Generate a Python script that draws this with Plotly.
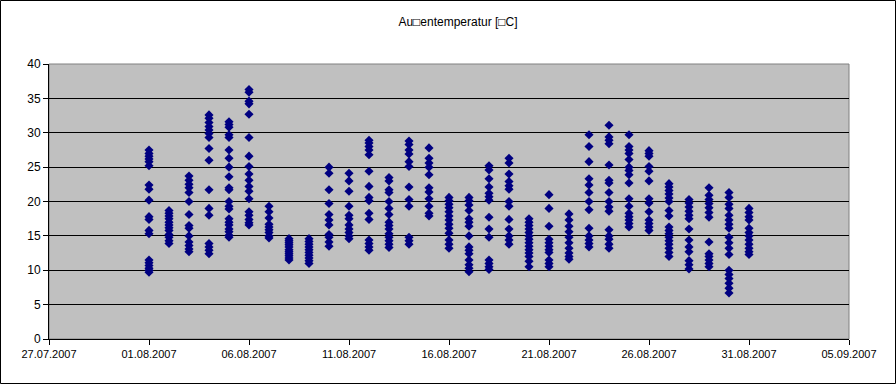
import plotly.graph_objects as go
import datetime as dt

title_text = "Au\u25a1entemperatur [\u25a1C]"

# Temperature readings per day (August 2007)
d01 = [27.5, 27.0, 26.6, 26.2, 25.8, 25.2, 22.4, 21.8, 20.2, 17.8, 17.4, 15.8, 15.3, 11.5, 11.1, 10.7, 10.3, 10.0, 9.7]
d02 = [18.7, 18.3, 17.9, 17.5, 17.0, 16.6, 16.2, 15.8, 15.2, 14.8, 14.3, 13.9]
d03 = [23.7, 23.1, 22.5, 22.0, 21.3, 20.0, 18.1, 16.5, 16.1, 15.0, 14.1, 13.6, 13.1, 12.7]
d04 = [32.6, 32.1, 31.5, 30.9, 30.4, 29.9, 29.3, 27.7, 26.0, 21.7, 19.0, 18.0, 13.9, 13.4, 12.9, 12.4]
d05 = [31.6, 31.2, 30.8, 29.7, 29.3, 27.5, 26.3, 25.0, 23.6, 22.0, 21.7, 20.0, 19.3, 18.9, 17.5, 17.0, 16.6, 16.0, 15.6, 15.1, 14.8]
d06 = [36.3, 35.9, 34.6, 34.2, 32.7, 29.3, 26.6, 25.1, 24.0, 23.1, 22.2, 21.5, 20.4, 18.5, 18.0, 17.4, 16.9, 16.6]
d07 = [19.3, 18.5, 17.6, 16.7, 16.3, 15.9, 15.5, 15.0, 14.7]
d08 = [14.6, 14.3, 14.0, 13.7, 13.4, 13.0, 12.7, 12.4, 12.1, 11.8, 11.5]
d09 = [14.6, 14.2, 13.8, 13.4, 13.0, 12.6, 12.2, 11.8, 11.4, 11.0]
d10 = [25.0, 24.1, 21.7, 19.7, 18.1, 17.3, 16.6, 15.2, 14.8, 14.1, 13.5]
d11 = [24.1, 23.0, 21.5, 19.3, 18.0, 17.5, 16.6, 16.0, 15.5, 15.0, 14.6]
d12 = [28.9, 28.5, 28.0, 27.5, 26.8, 24.4, 22.2, 20.6, 20.1, 18.3, 17.4, 14.4, 13.9, 13.4, 12.9]
d13 = [23.5, 23.0, 21.7, 21.3, 20.0, 19.0, 18.1, 17.0, 16.5, 16.0, 15.3, 14.8, 14.3, 13.8, 13.3]
d14 = [28.8, 28.3, 27.5, 26.9, 25.8, 25.1, 22.1, 20.3, 19.3, 14.8, 14.3, 13.8]
d15 = [27.8, 26.3, 25.6, 25.0, 23.9, 22.0, 21.4, 20.4, 19.3, 18.3, 17.9]
d16 = [20.6, 20.1, 19.6, 19.1, 18.5, 17.9, 17.3, 16.7, 16.1, 15.4, 14.4, 13.8, 13.2]
d17 = [20.6, 20.1, 19.5, 18.7, 17.5, 17.0, 16.4, 15.0, 13.4, 12.9, 12.4, 11.5, 10.8, 10.3, 9.8]
d18 = [25.2, 24.6, 23.3, 22.1, 21.2, 20.7, 20.2, 17.7, 16.0, 14.8, 11.5, 11.0, 10.5, 10.1]
d19 = [26.3, 25.6, 24.0, 22.9, 22.3, 21.8, 20.0, 19.3, 17.4, 16.0, 15.0, 14.4, 13.8]
d20 = [17.5, 17.0, 16.5, 16.0, 15.5, 15.0, 14.5, 14.0, 13.5, 13.0, 12.5, 12.0, 11.3, 10.5]
d21 = [21.0, 19.0, 16.4, 14.5, 14.0, 13.5, 13.0, 12.6, 11.5, 11.0, 10.5]
d22 = [18.2, 17.3, 16.4, 15.6, 14.8, 14.0, 13.2, 12.5, 12.0, 11.6]
d23 = [29.7, 28.0, 25.8, 23.3, 22.4, 21.3, 20.0, 18.8, 16.1, 15.0, 14.4, 13.9, 13.4]
d24 = [31.1, 29.4, 28.9, 28.4, 25.3, 23.1, 22.7, 21.3, 20.0, 19.2, 18.6, 15.9, 15.0, 14.5, 13.8, 13.2]
d25 = [29.7, 28.0, 27.5, 27.0, 26.1, 25.0, 24.5, 23.9, 22.7, 20.4, 19.3, 18.3, 17.8, 17.3, 16.8, 16.3]
d26 = [27.4, 27.0, 26.6, 25.1, 24.4, 23.0, 20.4, 19.8, 18.5, 17.3, 16.8, 16.3, 15.8]
d27 = [22.6, 22.1, 21.6, 21.1, 20.5, 20.0, 18.7, 17.9, 16.3, 15.8, 15.3, 14.8, 14.3, 13.8, 13.2, 12.6, 12.0]
d28 = [20.3, 19.8, 19.2, 18.6, 18.0, 17.5, 16.0, 14.4, 13.4, 12.7, 11.4, 10.8, 10.2]
d29 = [22.0, 20.9, 20.3, 19.7, 19.1, 18.4, 17.7, 14.1, 12.4, 12.0, 11.5, 11.0, 10.5]
d30 = [21.3, 20.6, 19.6, 19.0, 18.0, 17.3, 16.7, 16.1, 14.8, 14.0, 13.2, 12.3, 10.0, 9.4, 8.8, 8.1, 7.4, 6.7]
d31 = [19.0, 18.4, 17.8, 17.3, 16.1, 15.5, 15.0, 14.4, 13.8, 13.2, 12.7, 12.3]

days = [d01, d02, d03, d04, d05, d06, d07, d08, d09, d10, d11, d12, d13, d14, d15, d16,
        d17, d18, d19, d20, d21, d22, d23, d24, d25, d26, d27, d28, d29, d30, d31]

y_ticks = [0, 5, 10, 15, 20, 25, 30, 35, 40]
x_start = dt.date(2007, 7, 27)
x_end = dt.date(2007, 9, 5)
x_ticks = [x_start + dt.timedelta(days=5 * i) for i in range(9)]
x_ticklabels = [d.strftime("%d.%m.%Y") for d in x_ticks]

xs, ys = [], []
for i, vals in enumerate(days):
    d = dt.date(2007, 8, 1 + i)
    for v in vals:
        xs.append(d.isoformat())
        ys.append(v)

fig = go.Figure()
fig.add_trace(go.Scatter(
    x=xs, y=ys, mode="markers",
    marker=dict(symbol="diamond", size=7, color="#000080", line=dict(width=0)),
    showlegend=False,
))

W, H = 896, 384
L, R, T, B = 49, 47, 64, 45
pw, ph = W - L - R, H - T - B

fig.update_layout(
    width=W, height=H,
    margin=dict(l=L, r=R, t=T, b=B),
    paper_bgcolor="white",
    plot_bgcolor="#C0C0C0",
    font=dict(family="Arial, Liberation Sans, sans-serif", size=11, color="black"),
    title=dict(text=title_text, x=458 / W, xref="container", xanchor="center",
               y=1 - 22 / H, yref="container", yanchor="middle",
               font=dict(size=12, color="black")),
    xaxis=dict(
        type="date",
        range=[x_start.isoformat(), x_end.isoformat()],
        tickvals=[d.isoformat() for d in x_ticks],
        ticktext=x_ticklabels,
        showgrid=False, zeroline=False,
        showline=True, linecolor="black", linewidth=1,
        ticks="outside", ticklen=5, tickcolor="black",
        tickfont=dict(size=11),
    ),
    yaxis=dict(
        range=[0, 40],
        tickvals=y_ticks,
        showgrid=True, gridcolor="black", gridwidth=1,
        zeroline=False,
        showline=True, linecolor="black", linewidth=1,
        ticks="outside", ticklen=5, tickcolor="black",
        tickfont=dict(size=12),
    ),
    shapes=[
        dict(type="rect", xref="paper", yref="paper", x0=0, x1=1, y0=0, y1=1,
             line=dict(color="#808080", width=1), layer="below"),
        dict(type="rect", xref="paper", yref="paper",
             x0=-(L - 0.5) / pw, x1=1 + (R - 0.5) / pw,
             y0=-(B - 0.5) / ph, y1=1 + (T - 0.5) / ph,
             line=dict(color="black", width=1)),
    ],
)

fig.write_html("out.html", config={"displayModeBar": False},
               post_script="document.body.style.margin='0';document.body.style.overflow='hidden';")
